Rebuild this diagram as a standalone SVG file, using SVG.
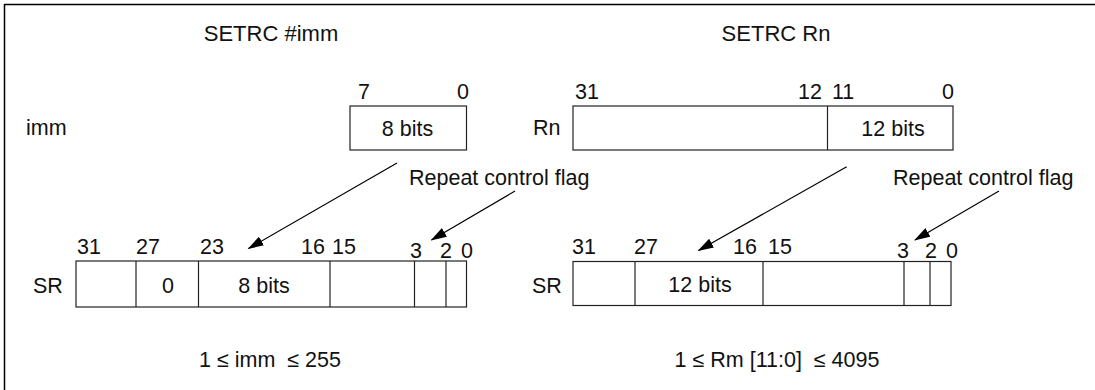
<svg xmlns="http://www.w3.org/2000/svg" width="1095" height="390" viewBox="0 0 1095 390">
<defs>
<style>
text{font-family:"Liberation Sans",Arial,sans-serif;font-size:21.5px;fill:#111;white-space:pre}
.t{font-size:22px;text-anchor:middle}
.c{text-anchor:middle}
.box{fill:#fff;stroke:#222;stroke-width:1.2}
.div{stroke:#222;stroke-width:1.2}
.frame{stroke:#000;stroke-width:1.5;fill:none}
.arr{stroke:#000;stroke-width:1.2;fill:none;marker-end:url(#ah)}
</style>
<marker id="ah" markerWidth="16" markerHeight="10" refX="15" refY="5" orient="auto" markerUnits="userSpaceOnUse">
<path d="M0,0 L16,5 L0,10 Z" fill="#000"/>
</marker>
</defs>
<rect width="1095" height="390" fill="#fff"/>
<path class="frame" d="M4.5,390 V4.5 H1095"/>

<text class="t" x="271" y="41">SETRC #imm</text>
<text class="t" x="776" y="41">SETRC Rn</text>

<g id="imm-reg">
<text x="26" y="135">imm</text>
<text x="358" y="99">7</text>
<text x="457" y="99">0</text>
<rect class="box" x="350" y="106" width="116.5" height="44"/>
<text class="c" x="407.5" y="136">8 bits</text>
</g>

<g id="rn-reg">
<text x="533" y="135">Rn</text>
<text x="575" y="99">31</text>
<text x="798" y="99">12</text>
<text x="832" y="99">11</text>
<text x="942" y="99">0</text>
<rect class="box" x="573" y="106" width="380" height="44"/>
<line class="div" x1="827.5" y1="106" x2="827.5" y2="150"/>
<text class="c" x="893" y="136">12 bits</text>
</g>

<g id="sr-left">
<text x="33" y="293">SR</text>
<text x="77" y="254">31</text>
<text x="136" y="254">27</text>
<text x="200" y="254">23</text>
<text x="301" y="254">16</text>
<text x="332" y="254">15</text>
<text x="410" y="257.5">3</text>
<text x="440" y="257.5">2</text>
<text x="461" y="257.5">0</text>
<rect class="box" x="76" y="261" width="390.5" height="46"/>
<line class="div" x1="136" y1="261" x2="136" y2="307"/>
<line class="div" x1="198.5" y1="261" x2="198.5" y2="307"/>
<line class="div" x1="330" y1="261" x2="330" y2="307"/>
<line class="div" x1="414.5" y1="261" x2="414.5" y2="307"/>
<line class="div" x1="446" y1="261" x2="446" y2="307"/>
<text class="c" x="168" y="293">0</text>
<text class="c" x="264" y="293">8 bits</text>
</g>

<g id="sr-right">
<text x="532" y="293">SR</text>
<text x="572" y="254">31</text>
<text x="634" y="254">27</text>
<text x="733" y="254">16</text>
<text x="768" y="254">15</text>
<text x="897" y="257.5">3</text>
<text x="925" y="257.5">2</text>
<text x="946" y="257.5">0</text>
<rect class="box" x="573" y="261.5" width="378" height="44"/>
<line class="div" x1="635" y1="261.5" x2="635" y2="305.5"/>
<line class="div" x1="763" y1="261.5" x2="763" y2="305.5"/>
<line class="div" x1="904" y1="261.5" x2="904" y2="305.5"/>
<line class="div" x1="930" y1="261.5" x2="930" y2="305.5"/>
<text class="c" x="700" y="292">12 bits</text>
</g>

<g id="labels">
<text x="409" y="185">Repeat control flag</text>
<text x="893" y="185">Repeat control flag</text>
<text class="c" x="270" y="367">1 ≤ imm  ≤ 255</text>
<text class="c" x="777" y="367">1 ≤ Rm [11:0]  ≤ 4095</text>
</g>

<g id="connectors">
<line class="arr" x1="397" y1="163" x2="248.5" y2="248.5"/>
<line class="arr" x1="515" y1="191" x2="431.5" y2="240"/>
<line class="arr" x1="846.7" y1="166.7" x2="698.5" y2="250.5"/>
<line class="arr" x1="999" y1="191" x2="915" y2="240"/>
</g>
</svg>
